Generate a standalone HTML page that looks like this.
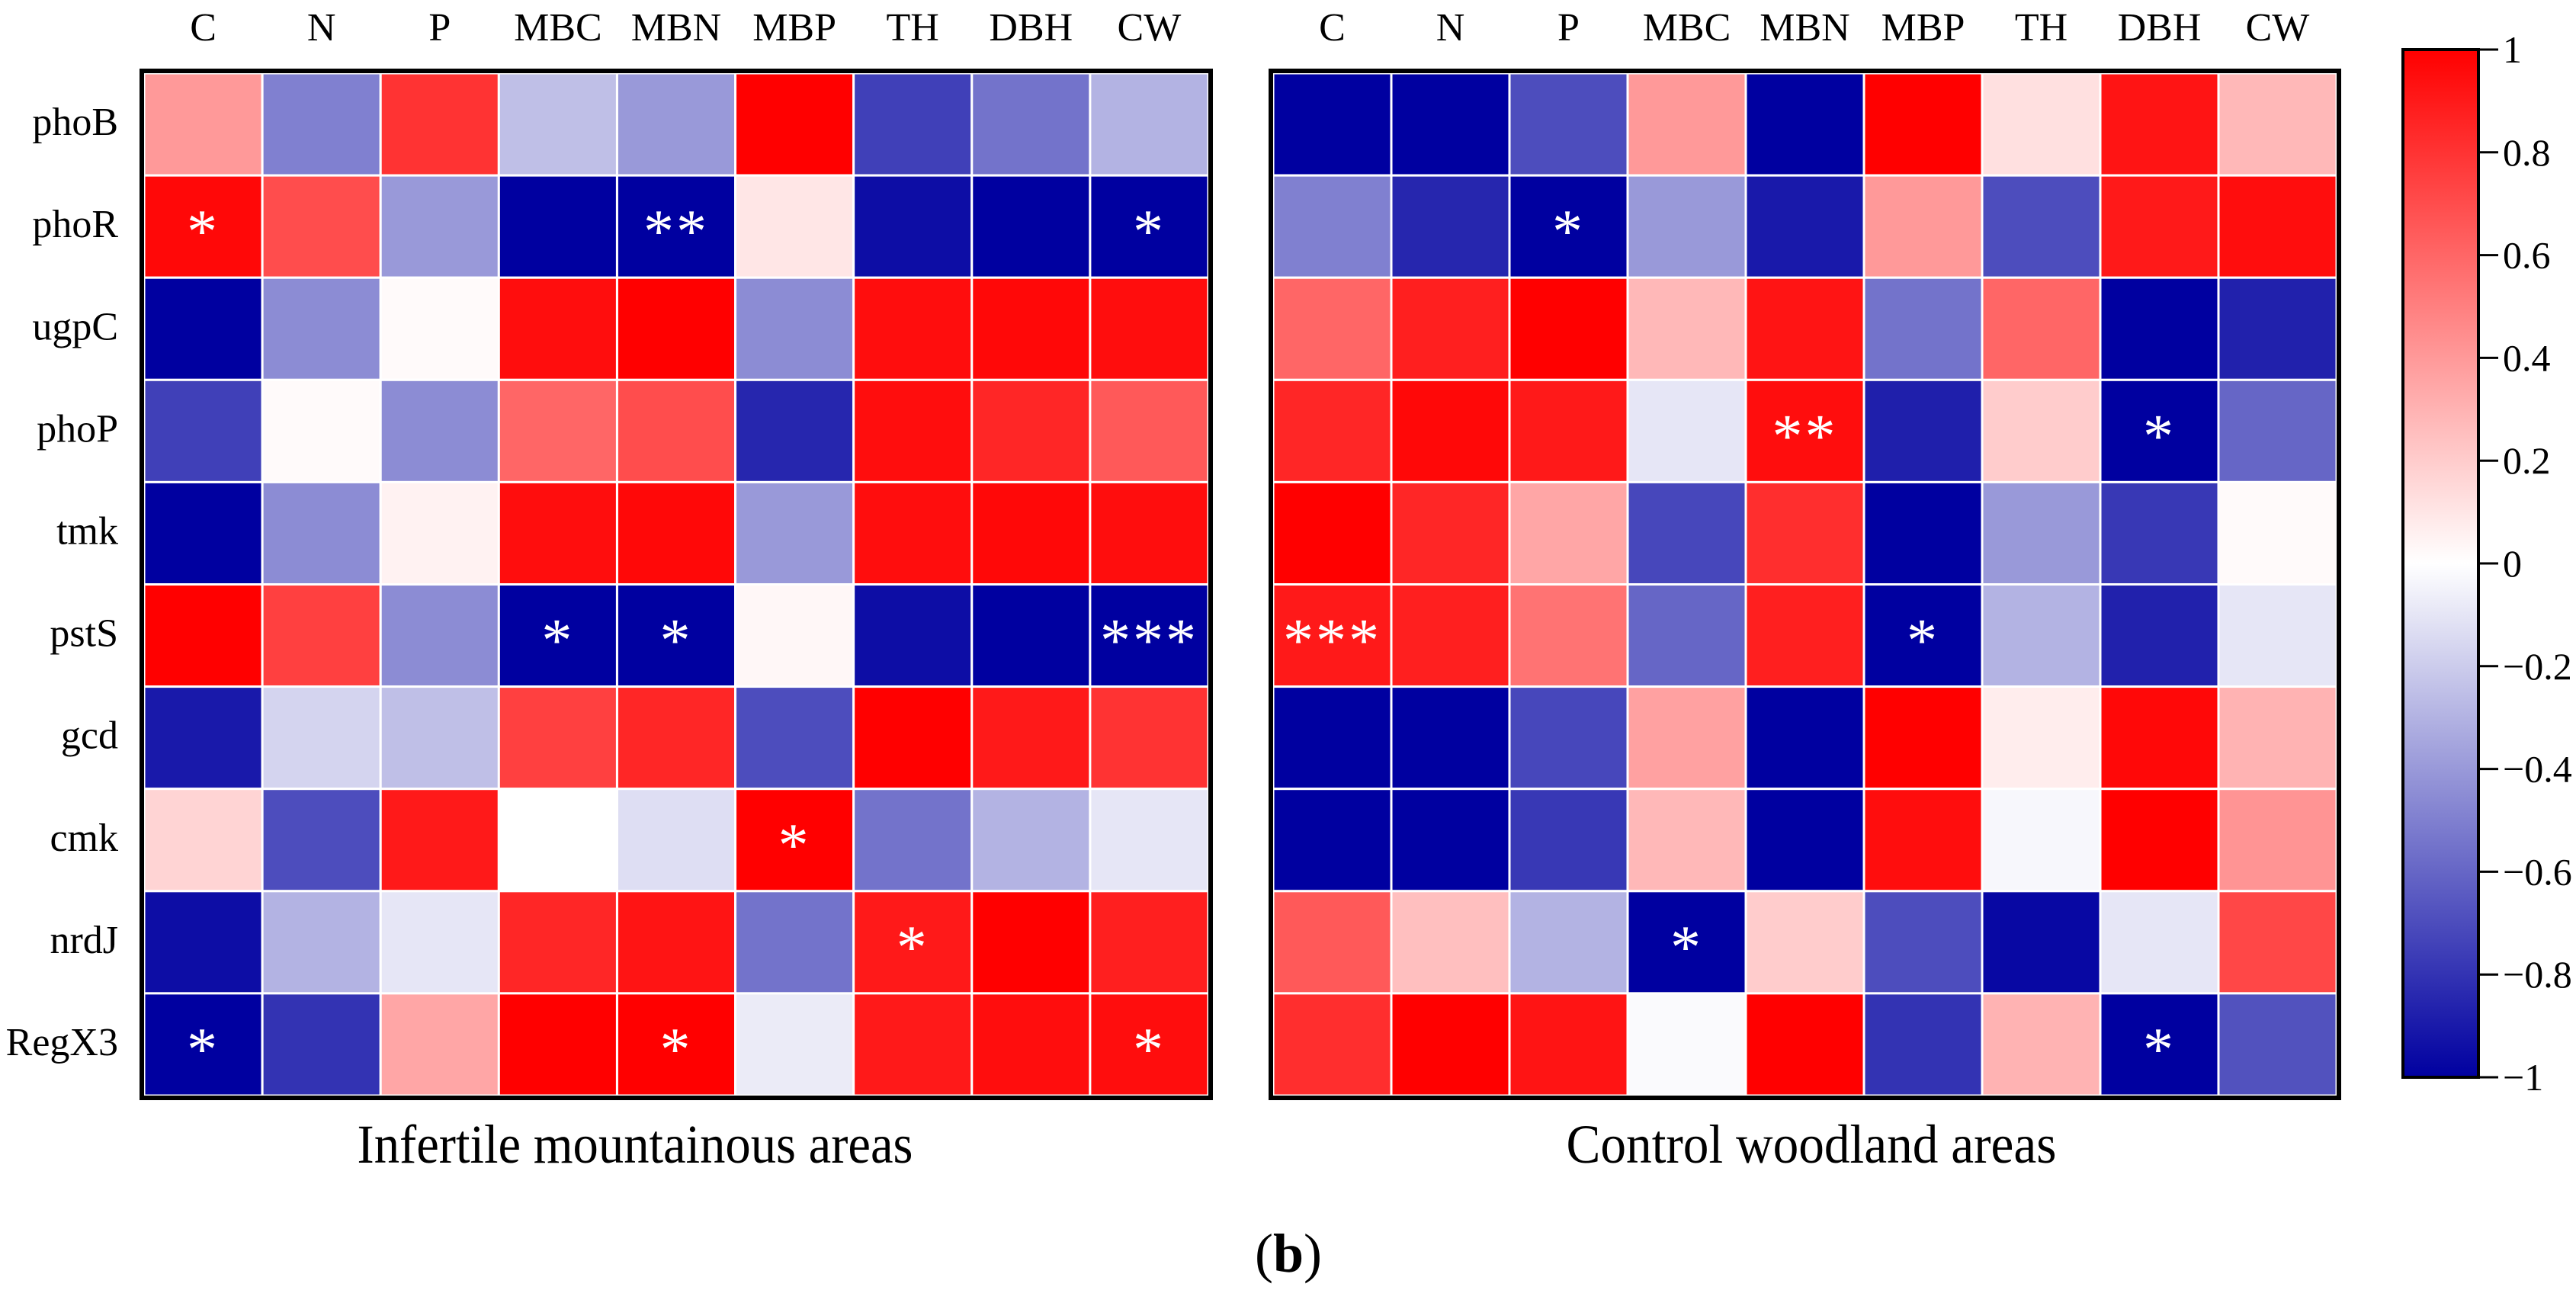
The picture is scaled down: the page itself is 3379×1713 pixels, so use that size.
<!DOCTYPE html>
<html><head><meta charset="utf-8"><style>
html,body{margin:0;padding:0;background:#fff;}
svg{display:block;font-family:"Liberation Serif",serif;}
</style></head><body>
<svg id="chart" width="3379" height="1713" viewBox="0 0 3379 1713" xmlns="http://www.w3.org/2000/svg" font-family="Liberation Serif, serif">
<defs>
<linearGradient id="cbar" x1="0" y1="1" x2="0" y2="0">
<stop offset="0" stop-color="rgb(0,0,160)"/>
<stop offset="0.5" stop-color="#ffffff"/>
<stop offset="1" stop-color="rgb(255,0,0)"/>
</linearGradient>
</defs>
<g id="layer"></g>
</svg>
<script>
const rowLabels = ["phoB","phoR","ugpC","phoP","tmk","pstS","gcd","cmk","nrdJ","RegX3"];
const colLabels = ["C","N","P","MBC","MBN","MBP","TH","DBH","CW"];
const infertileValues = [
[0.4,-0.5,0.8,-0.25,-0.4,1.0,-0.75,-0.55,-0.3],
[0.97,0.7,-0.4,-1,-1,0.1,-0.95,-1,-1],
[-1,-0.45,0.02,0.95,1.0,-0.45,0.95,0.97,0.95],
[-0.75,0.02,-0.45,0.6,0.7,-0.85,0.95,0.85,0.65],
[-1,-0.45,0.05,0.95,0.97,-0.4,0.95,0.97,0.95],
[1.0,0.75,-0.45,-1,-1,0.03,-0.95,-1,-1],
[-0.9,-0.17,-0.25,0.75,0.85,-0.7,1.0,0.9,0.8],
[0.17,-0.7,0.9,0,-0.13,1.0,-0.55,-0.3,-0.1],
[-0.95,-0.3,-0.1,0.85,0.92,-0.55,0.9,1.0,0.88],
[-1,-0.8,0.35,1.0,1.0,-0.08,0.9,0.95,0.95]];
const controlValues = [
[-1,-1,-0.7,0.4,-1,1.0,0.12,0.92,0.28],
[-0.5,-0.85,-1,-0.4,-0.9,0.4,-0.7,0.9,0.95],
[0.6,0.88,1.0,0.28,0.92,-0.55,0.6,-1,-0.87],
[0.85,0.97,0.9,-0.1,0.95,-0.88,0.2,-1,-0.6],
[1.0,0.85,0.35,-0.72,0.82,-1,-0.4,-0.78,0.02],
[0.9,0.88,0.55,-0.6,0.88,-1,-0.3,-0.87,-0.1],
[-1,-1,-0.72,0.37,-1,1.0,0.07,0.97,0.3],
[-1,-1,-0.78,0.28,-1,0.95,-0.03,1.0,0.42],
[0.65,0.25,-0.3,-1,0.2,-0.7,-0.97,-0.1,0.72],
[0.82,1.0,0.92,-0.02,1.0,-0.8,0.3,-1,-0.68]];
const infertileStars = [[1,0,"*"],[1,4,"**"],[1,8,"*"],[5,3,"*"],[5,4,"*"],[5,8,"***"],[7,5,"*"],[8,6,"*"],[9,0,"*"],[9,4,"*"],[9,8,"*"]];
const controlStars = [[1,2,"*"],[3,4,"**"],[3,7,"*"],[5,0,"***"],[5,5,"*"],[8,3,"*"],[9,7,"*"]];
const cbarTicks = [1,0.8,0.6,0.4,0.2,0,-0.2,-0.4,-0.6,-0.8,-1];
const cbarTickLabels = ["1","0.8","0.6","0.4","0.2","0","\u22120.2","\u22120.4","\u22120.6","\u22120.8","\u22121"];

const NS="http://www.w3.org/2000/svg";
const FF='"Liberation Serif", serif';
const layer=document.getElementById('layer');
function mk(tag,attrs,parent){const e=document.createElementNS(NS,tag);for(const k in attrs)e.setAttribute(k,attrs[k]);if(tag==='text')e.setAttribute('font-family',FF);(parent||layer).appendChild(e);return e;}
function color(v){
  if(v>=0){const t=v;return `rgb(255,${Math.round(255*(1-t))},${Math.round(255*(1-t))})`;}
  const t=-v;return `rgb(${Math.round(255*(1-t))},${Math.round(255*(1-t))},${Math.round(255-95*t)})`;
}
const top0=96, bottom0=1437, cellH=(bottom0-top0)/10;
function drawPanel(x0,x1,vals,stars,title,titleX,titleW,name,showRows){
  const cellW=(x1-x0)/9;
  const g=mk('g',{});
  
  
  const xs=c=>x0+c*cellW, ys=r=>top0+r*cellH;
  vals.forEach((row,r)=>row.forEach((v,c)=>{
    const rc=mk('rect',{x:xs(c),y:ys(r),width:cellW,height:cellH,fill:color(v),stroke:'#fff','stroke-width':3},g);
    
    
  }));
  const b=mk('rect',{x:x0-3,y:top0-3,width:x1-x0+6,height:bottom0-top0+6,fill:'none',stroke:'#000','stroke-width':6},g);
  
  
  stars.forEach(([r,c,s])=>{
    const t=mk('text',{x:xs(c)+cellW/2,y:ys(r)+cellH/2+33,'text-anchor':'middle','font-size':80,fill:'#fff','letter-spacing':3},g);
    t.textContent=s;
    
    
  });
  colLabels.forEach((l,c)=>{
    const t=mk('text',{x:xs(c)+cellW/2,y:53,'text-anchor':'middle','font-size':52,fill:'#000'},g);
    t.textContent=l;
    
    
  });
  if(showRows) rowLabels.forEach((l,r)=>{
    const t=mk('text',{x:155,y:ys(r)+cellH/2+14,'text-anchor':'end','font-size':52,fill:'#000'},g);
    t.textContent=l;
    
    
  });
  const tt=mk('text',{x:titleX,y:1525,'text-anchor':'middle','font-size':72,fill:'#000',textLength:titleW,lengthAdjust:'spacingAndGlyphs'},g);
  tt.textContent=title;
  
  
}
drawPanel(189,1585,infertileValues,infertileStars,"Infertile  mountainous areas",833,729,'infertile-heatmap',true);
drawPanel(1670,3065,controlValues,controlStars,"Control woodland areas",2376,643,'control-heatmap',false);

// colorbar
const cbTop=65, cbBot=1413, cbX0=3152, cbX1=3251;
const cy=v=>cbBot-(v+1)/2*(cbBot-cbTop);
const cb=mk('rect',{x:cbX0,y:cbTop,width:cbX1-cbX0,height:cbBot-cbTop,fill:'url(#cbar)',stroke:'#000','stroke-width':4});


cbarTicks.forEach((v,i)=>{
  const ln=mk('line',{x1:cbX1,x2:3277,y1:cy(v),y2:cy(v),stroke:'#000','stroke-width':3});
  
  
  const t=mk('text',{x:3283,y:cy(v)+17,'font-size':50,fill:'#000'});
  t.textContent=cbarTickLabels[i];
  
  
});
const fb=mk('text',{x:1690,y:1668,'text-anchor':'middle','font-size':72,fill:'#000'});
fb.innerHTML='(<tspan font-weight="bold">b</tspan>)';


</script>
</body></html>
